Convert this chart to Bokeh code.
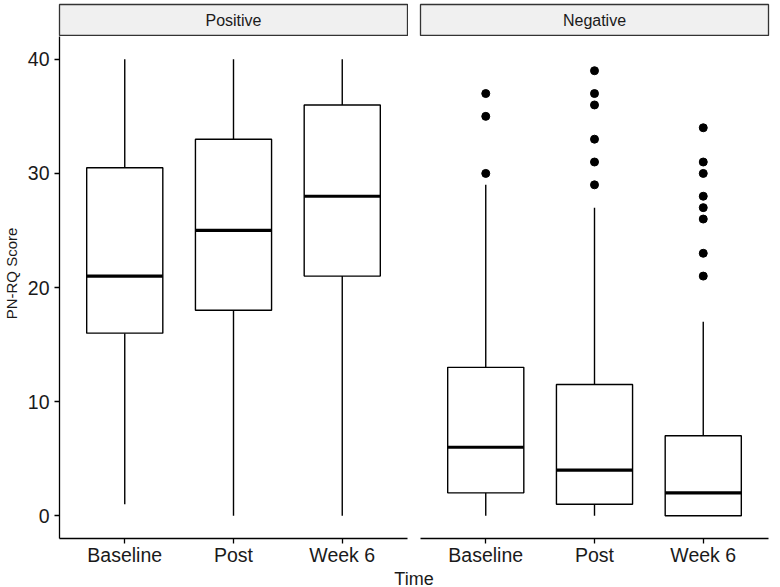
import math
from bokeh.plotting import figure
from bokeh.layouts import row, column
from bokeh.models import FactorRange, Range1d, FixedTicker, ColumnDataSource
from bokeh.transform import dodge
from bokeh.embed import file_html
from bokeh.resources import INLINE
from bokeh.core.properties import value

# ---------------- data ----------------
times = ["Baseline", "Post", "Week 6"]
panels = ["Positive", "Negative"]

pos_lower = [1, 0, 0]
pos_q1 = [16, 18, 21]
pos_median = [21, 25, 28]
pos_q3 = [30.5, 33, 36]
pos_upper = [40, 40, 40]

neg_lower = [0, 0, 0]
neg_q1 = [2, 1, 0]
neg_median = [6, 4, 2]
neg_q3 = [13, 11.5, 7]
neg_upper = [29, 27, 17]

neg_out_baseline = [30, 35, 37]
neg_out_post = [29, 31, 33, 36, 37, 39]
neg_out_week6 = [21, 23, 26, 27, 28, 30, 31, 34]

y_ticks = [0, 10, 20, 30, 40]
y_title = "PN-RQ Score"
x_title = "Time"

# ---------------- style ----------------
FONT = "Liberation Sans"
TXT = "#1a1a1a"
BOX_W = 0.7
LW = 1.4


def style_axis(ax, font_size):
    ax.axis_line_color = "black"
    ax.axis_line_width = 1.3
    ax.major_tick_line_color = "black"
    ax.major_tick_line_width = 1.3
    ax.major_tick_out = 5
    ax.major_tick_in = 0
    ax.minor_tick_line_color = None
    ax.major_label_text_font = FONT
    ax.major_label_text_font_size = font_size
    ax.major_label_text_color = TXT


def blank_fig(width, height, xr, yr, left=0, right=0, top=0, bottom=0):
    f = figure(
        x_range=xr, y_range=yr, width=width, height=height,
        min_border_left=left, min_border_right=right,
        min_border_top=top, min_border_bottom=bottom,
        x_axis_location=None, y_axis_location=None,
        toolbar_location=None, output_backend="svg",
    )
    f.xgrid.visible = False
    f.ygrid.visible = False
    f.outline_line_color = None
    f.border_fill_color = "white"
    return f


def make_panel(lower, q1, med, q3, upper, out_x, out_y, show_y, width, left, right):
    p = figure(
        x_range=FactorRange(*times, range_padding=0.1, range_padding_units="absolute"),
        y_range=Range1d(-2, 42),
        width=width, height=532,
        min_border_left=left, min_border_right=right,
        min_border_top=0, min_border_bottom=28,
        y_axis_location="left" if show_y else None,
        toolbar_location=None, output_backend="svg",
    )
    p.xgrid.visible = False
    p.ygrid.visible = False
    p.outline_line_color = None
    p.background_fill_color = "white"
    p.border_fill_color = "white"

    src = ColumnDataSource(dict(x=times, lower=lower, q1=q1, med=med, q3=q3, upper=upper))
    p.segment(x0="x", y0="q3", x1="x", y1="upper", source=src,
              line_color="black", line_width=LW)
    p.segment(x0="x", y0="lower", x1="x", y1="q1", source=src,
              line_color="black", line_width=LW)
    p.vbar(x="x", width=BOX_W, bottom="q1", top="q3", source=src,
           fill_color="white", line_color="black", line_width=LW)
    p.segment(x0=dodge("x", -BOX_W / 2, range=p.x_range), y0="med",
              x1=dodge("x", BOX_W / 2, range=p.x_range), y1="med",
              source=src, line_color="black", line_width=3.2)
    if out_x:
        p.scatter(x=out_x, y=out_y, size=8, marker="circle",
                  fill_color="black", line_color="black")

    style_axis(p.xaxis[0], "19.5px")
    p.xaxis[0].major_label_standoff = 0
    if show_y:
        ya = p.yaxis[0]
        style_axis(ya, "19.5px")
        ya.ticker = FixedTicker(ticks=y_ticks)
        ya.major_label_standoff = 5
    return p


def make_strip(name, width, left, right):
    s = blank_fig(width, 36, Range1d(0, 1), Range1d(0, 1), left, right, 4, 1)
    s.background_fill_color = "#F0F0F0"
    s.outline_line_color = "#333333"
    s.outline_line_width = 1.3
    s.text(x=[0.5], y=[0.5], text=[name], text_align="center", text_baseline="middle",
           text_font=value(FONT), text_font_size="16px", text_color=TXT)
    return s


# y-axis title column (spans strip + panel height)
yt = blank_fig(22, 568, Range1d(0, 22), Range1d(568, 0))
yt.text(x=[11], y=[273], text=[y_title], angle=math.pi / 2,
        text_align="center", text_baseline="middle",
        text_font=value(FONT), text_font_size="15px", text_color=TXT)

# left (Positive) panel
p_left = make_panel(pos_lower, pos_q1, pos_median, pos_q3, pos_upper, [], [],
                    True, 386, 37, 1)

# right (Negative) panel
out_x = (["Baseline"] * len(neg_out_baseline) + ["Post"] * len(neg_out_post)
         + ["Week 6"] * len(neg_out_week6))
out_y = neg_out_baseline + neg_out_post + neg_out_week6
p_right = make_panel(neg_lower, neg_q1, neg_median, neg_q3, neg_upper, out_x, out_y,
                     False, 362, 12, 2)

s_left = make_strip(panels[0], 386, 37, 1)
s_right = make_strip(panels[1], 362, 12, 2)

# x-axis title across both panels
t = blank_fig(770, 19, Range1d(0, 1), Range1d(0, 1), left=59, right=2)
t.text(x=[0.5], y=[1.0], text=[x_title], text_align="center", text_baseline="top",
       text_font=value(FONT), text_font_size="18px", text_color=TXT)

layout = column(row(yt, column(s_left, p_left), column(s_right, p_right)), t)

open("out.html", "w").write(file_html(layout, INLINE))
